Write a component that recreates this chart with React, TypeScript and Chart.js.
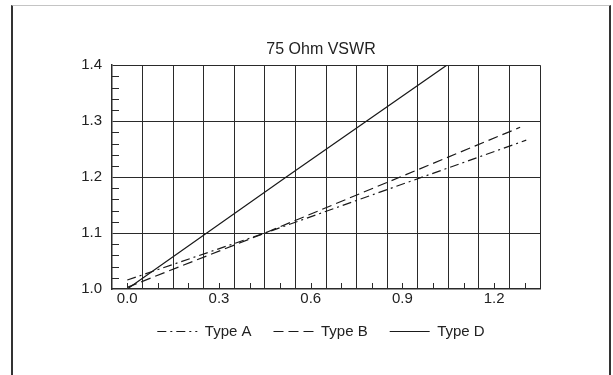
import React, { useEffect, useRef } from "react";
import { Chart, registerables } from "chart.js";

Chart.register(...registerables);

// ---- data ----
const typeAX = [0, 0.45, 1.305];
const typeAY = [1.016, 1.1, 1.266];
const typeBX = [0, 0.45, 1.285];
const typeBY = [1.003, 1.1, 1.289];
const typeDX = [0, 0.52, 1.045];
const typeDY = [1.0, 1.2, 1.4];

const seriesNames = ["Type A", "Type B", "Type D"];
const seriesDash = [[9, 4, 2, 4], [10, 5], []];
const chartTitle = "75 Ohm VSWR";

// ---- axis ticks ----
const xTickValues = [0, 0.3, 0.6, 0.9, 1.2];
const xTickLabels = ["0.0", "0.3", "0.6", "0.9", "1.2"];
const xGridValues = [0.05, 0.15, 0.25, 0.35, 0.45, 0.55, 0.65, 0.75, 0.85, 0.95, 1.05, 1.15, 1.25, 1.35];
const xMinorTicks = [0, 0.1, 0.2, 0.3, 0.4, 0.5, 0.6, 0.7, 0.8, 0.9, 1.0, 1.1, 1.2, 1.3];
const yTickValues = [1.0, 1.1, 1.2, 1.3, 1.4];
const yTickLabels = ["1.0", "1.1", "1.2", "1.3", "1.4"];
const yMinorTicks = [1.02, 1.04, 1.06, 1.08, 1.12, 1.14, 1.16, 1.18, 1.22, 1.24, 1.26, 1.28, 1.32, 1.34, 1.36, 1.38];
const xMin = -0.05;
const xMax = 1.35;
const yMin = 1.0;
const yMax = 1.4;

const INK = "#222";
const GRID = "#2a2a2a";
const LINE = "#1a1a1a";

const near = (a: number, b: number) => Math.abs(a - b) < 1e-6;

const minorTickPlugin = {
  id: "minorTicks",
  afterLayout(chart: any) {
    // widen the tick label clip areas so labels may extend into the paddings
    const y = chart.scales.y;
    if (y) y.left = 0;
    const x = chart.scales.x;
    if (x) x.bottom = chart.height;
  },
  afterDraw(chart: any) {
    const { ctx, chartArea, scales } = chart;
    const x = scales.x;
    const y = scales.y;
    ctx.save();
    ctx.strokeStyle = GRID;
    ctx.lineWidth = 1;
    ctx.beginPath();
    for (const v of xMinorTicks) {
      const px = Math.round(x.getPixelForValue(v)) + 0.5;
      ctx.moveTo(px, chartArea.bottom);
      ctx.lineTo(px, chartArea.bottom - 6);
    }
    for (const v of yMinorTicks) {
      const py = Math.round(y.getPixelForValue(v)) + 0.5;
      ctx.moveTo(chartArea.left, py);
      ctx.lineTo(chartArea.left + 7, py);
    }
    ctx.stroke();
    ctx.restore();
  },
};

function pts(xs: number[], ys: number[]) {
  return xs.map((x, i) => ({ x, y: ys[i] }));
}

export default function App() {
  const canvasRef = useRef<HTMLCanvasElement | null>(null);

  useEffect(() => {
    if (!canvasRef.current) return;
    Chart.defaults.font.family = "'Liberation Sans', Arial, Helvetica, sans-serif";
    Chart.defaults.color = INK;

    const lineBase = {
      showLine: true,
      pointRadius: 0,
      pointHoverRadius: 0,
      borderColor: LINE,
      backgroundColor: LINE,
      borderWidth: 1.2,
      fill: false,
      tension: 0,
    };

    const chart = new Chart(canvasRef.current, {
      type: "scatter",
      data: {
        datasets: [
          { ...lineBase, label: seriesNames[0], data: pts(typeAX, typeAY), borderDash: seriesDash[0] },
          { ...lineBase, label: seriesNames[1], data: pts(typeBX, typeBY), borderDash: seriesDash[1] },
          { ...lineBase, label: seriesNames[2], data: pts(typeDX, typeDY), borderDash: seriesDash[2] },
        ],
      },
      options: {
        animation: false,
        responsive: false,
        events: [],
        layout: { padding: { top: 30, left: 102, right: 73, bottom: 26 } },
        plugins: {
          title: {
            display: true,
            text: chartTitle,
            color: INK,
            font: { size: 16, weight: "normal" },
            padding: { top: 10, bottom: 6 },
          },
          legend: {
            display: true,
            position: "bottom",
            labels: {
              usePointStyle: true,
              pointStyle: "line",
              pointStyleWidth: 40,
              padding: 22,
              color: INK,
              font: { size: 15 },
              generateLabels: (ch: any) =>
                ch.data.datasets.map((ds: any, i: number) => ({
                  text: ds.label,
                  fillStyle: LINE,
                  strokeStyle: LINE,
                  fontColor: INK,
                  lineWidth: 1.2,
                  lineDash: seriesDash[i],
                  lineCap: "butt",
                  pointStyle: "line",
                  hidden: false,
                  datasetIndex: i,
                })),
            },
          },
          tooltip: { enabled: false },
        },
        scales: {
          x: {
            type: "linear",
            min: xMin,
            max: xMax,
            afterBuildTicks: (scale: any) => {
              const vals = [...xTickValues, ...xGridValues].sort((a, b) => a - b);
              scale.ticks = vals.map((value) => ({ value }));
            },
            afterFit: (scale: any) => {
              scale.height = 13;
            },
            ticks: {
              autoSkip: false,
              maxRotation: 0,
              padding: 1,
              color: INK,
              font: { size: 15 },
              callback: (value: any) => {
                const i = xTickValues.findIndex((v) => near(v, Number(value)));
                return i >= 0 ? xTickLabels[i] : "";
              },
            },
            grid: {
              drawTicks: false,
              lineWidth: 1,
              color: (c: any) => {
                const v = c.tick ? c.tick.value : NaN;
                return xGridValues.some((g) => near(g, v)) ? GRID : "rgba(0,0,0,0)";
              },
            },
            border: { display: true, color: GRID, width: 1.5 },
          },
          y: {
            type: "linear",
            min: yMin,
            max: yMax,
            afterBuildTicks: (scale: any) => {
              scale.ticks = yTickValues.map((value) => ({ value }));
            },
            afterFit: (scale: any) => {
              scale.width = 10;
            },
            ticks: {
              padding: 10,
              color: INK,
              font: { size: 15 },
              callback: (value: any) => {
                const i = yTickValues.findIndex((v) => near(v, Number(value)));
                return i >= 0 ? yTickLabels[i] : "";
              },
            },
            grid: {
              drawTicks: false,
              lineWidth: 1,
              color: (c: any) => {
                const v = c.tick ? c.tick.value : NaN;
                return near(v, yMin) ? "rgba(0,0,0,0)" : GRID;
              },
            },
            border: { display: true, color: GRID, width: 1.5 },
          },
        },
      },
      plugins: [minorTickPlugin],
    } as any);

    return () => chart.destroy();
  }, []);

  return (
    <div
      style={{
        position: "fixed",
        left: 0,
        top: 0,
        width: 613,
        height: 375,
        background: "#fff",
        overflow: "hidden",
      }}
    >
      <div
        style={{
          position: "absolute",
          left: 11,
          top: 5,
          width: 600,
          height: 420,
          boxSizing: "border-box",
          borderTop: "1px solid #c4c4c4",
          borderLeft: "2px solid #333",
          borderRight: "2px solid #333",
        }}
      />
      <canvas
        ref={canvasRef}
        width={613}
        height={375}
        style={{ position: "absolute", left: 0, top: 0, width: 613, height: 375 }}
      />
    </div>
  );
}
